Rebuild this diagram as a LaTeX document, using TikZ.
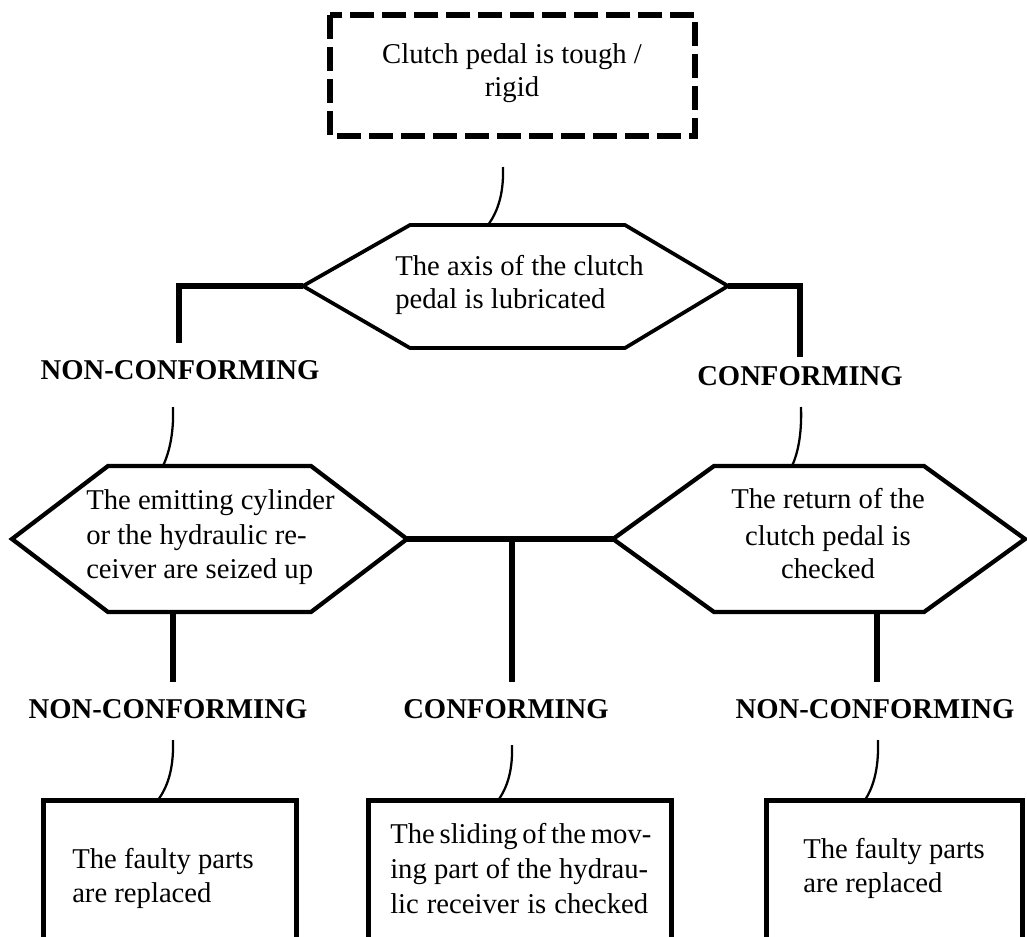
\documentclass[tikz,border=0pt]{standalone}
\usepackage{fontspec}
\setmainfont{Liberation Serif}
\begin{document}
\begin{tikzpicture}[x=0.75pt,y=-0.75pt,
  txt/.style={inner sep=0pt, font=\fontsize{21.5}{26}\selectfont},
  lbl/.style={inner sep=0pt, anchor=base, font=\fontsize{21.5}{26}\selectfont\bfseries},
  hexline/.style={line width=2.8pt, line join=miter},
  link/.style={line width=4pt},
  bendline/.style={line width=1.7pt},
  boxline/.style={line width=3.75pt},
  dashbox/.style={line width=4.8pt, dash pattern=on 18pt off 6pt}]
\useasboundingbox (0,0) rectangle (1027,936);
\clip (0,0) rectangle (1027,936);

% ---- starting symptom (dashed box)
\draw[dashbox] (330,15) rectangle (695,136);
\node[txt, anchor=base] (t1) at (512,63) {Clutch pedal is tough /};
\node[txt, anchor=base] (t2) at (512,96) {rigid};

% ---- first check
\coordinate (h1w) at (303,286);  \coordinate (h1nw) at (410,225);
\coordinate (h1ne) at (625,225); \coordinate (h1e) at (728,286);
\coordinate (h1se) at (625,348); \coordinate (h1sw) at (410,348);
\draw[hexline] (h1w) -- (h1nw) -- (h1ne) -- (h1e) -- (h1se) -- (h1sw) -- cycle;
\node[txt, anchor=base west] (a1) at (395,275) {The axis of the clutch};
\node[txt, anchor=base west] (a2) at (395,308) {pedal is lubricated};

\coordinate (c0a) at (503,167); \coordinate (c0b) at (488,225);
\draw[bendline] (c0a) .. controls (504,197) and (496,214) .. (c0b);

% ---- branches of the first check
\coordinate (l1c) at (179,286); \coordinate (l1e) at (179,343);
\draw[link] (h1w) -- (l1c) -- (l1e);
\node[lbl] (nc1) at (180,379) {NON-CONFORMING};
\coordinate (b1a) at (173,407); \coordinate (b1b) at (163,466);
\draw[bendline] (b1a) .. controls (174,437) and (168,455) .. (b1b);

\coordinate (r1c) at (800,286); \coordinate (r1e) at (800,357);
\draw[link] (h1e) -- (r1c) -- (r1e);
\node[lbl] (c1) at (800,385) {CONFORMING};
\coordinate (b2a) at (801,407); \coordinate (b2b) at (792,466);
\draw[bendline] (b2a) .. controls (802,437) and (797,455) .. (b2b);

% ---- second row checks
\coordinate (h2w) at (12,539);   \coordinate (h2nw) at (108,466);
\coordinate (h2ne) at (311,466); \coordinate (h2e) at (407,539);
\coordinate (h2se) at (311,612); \coordinate (h2sw) at (108,612);
\draw[hexline, line width=3.2pt] (h2w) -- (h2nw) -- (h2ne) -- (h2e) -- (h2se) -- (h2sw) -- cycle;
\node[txt, anchor=base west] (e1) at (86,509) {The emitting cylinder};
\node[txt, anchor=base west] (e2) at (86,544) {or the hydraulic re-};
\node[txt, anchor=base west] (e3) at (86,578) {ceiver are seized up};

\coordinate (h3w) at (613,539);  \coordinate (h3nw) at (714,466);
\coordinate (h3ne) at (924,466); \coordinate (h3e) at (1025,539);
\coordinate (h3se) at (924,612); \coordinate (h3sw) at (714,612);
\draw[hexline, line width=3.2pt] (h3w) -- (h3nw) -- (h3ne) -- (h3e) -- (h3se) -- (h3sw) -- cycle;
\node[txt, anchor=base] (r1) at (828,508) {The return of the};
\node[txt, anchor=base] (r2) at (828,545) {clutch pedal is};
\node[txt, anchor=base] (r3) at (828,578) {checked};

% ---- links to the outcomes
\draw[link] (h2e) -- (h3w);
\coordinate (mtop) at (512,539); \coordinate (mend) at (512,682);
\draw[link] (mtop) -- (mend);
\coordinate (lt) at (173,612); \coordinate (le) at (173,682);
\draw[link] (lt) -- (le);
\coordinate (rt) at (877,612); \coordinate (re) at (877,682);
\draw[link] (rt) -- (re);

\node[lbl] (nc2) at (168,718) {NON-CONFORMING};
\node[lbl] (c2)  at (506,718) {CONFORMING};
\node[lbl] (nc3) at (875,718) {NON-CONFORMING};

\coordinate (b3a) at (173,740); \coordinate (b3b) at (158,800);
\draw[bendline] (b3a) .. controls (174,772) and (166,789) .. (b3b);
\coordinate (b4a) at (512,745); \coordinate (b4b) at (497,802);
\draw[bendline] (b4a) .. controls (513,775) and (505,791) .. (b4b);
\coordinate (b5a) at (878,740); \coordinate (b5b) at (865,800);
\draw[bendline] (b5a) .. controls (879,772) and (872,789) .. (b5b);

% ---- actions
\draw[boxline] (43,800) rectangle (296,960);
\node[txt, anchor=base west] (f1) at (72,868) {The faulty parts};
\node[txt, anchor=base west] (f2) at (72,902) {are replaced};

\draw[boxline] (368,800) rectangle (671,960);
\node[txt, anchor=base west] (s1) at (390,843) {\makebox[193.5pt][s]{The sliding of the mov-}};
\node[txt, anchor=base west] (s2) at (390,878) {\makebox[193.5pt][s]{ing part of the hydrau-}};
\node[txt, anchor=base west] (s3) at (390,913) {\makebox[193.5pt][s]{lic receiver is checked}};

\draw[boxline] (766,800) rectangle (1022,960);
\node[txt, anchor=base west] (g1) at (803,858) {The faulty parts};
\node[txt, anchor=base west] (g2) at (803,892) {are replaced};
\end{tikzpicture}
\end{document}
